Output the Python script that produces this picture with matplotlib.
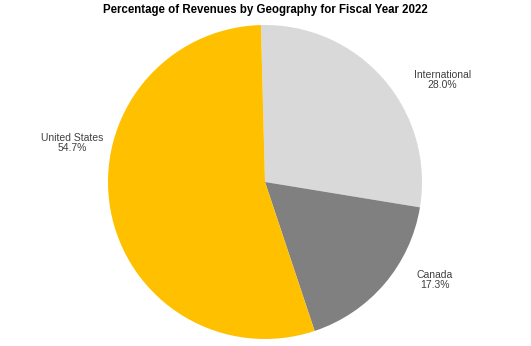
import matplotlib.pyplot as plt

regions = ['International', 'Canada', 'United States']
shares = [28.0, 17.3, 54.7]
colors = ['#D9D9D9', '#808080', '#FFC000']

# label spots (axes fraction) for each region
label_pos = [(1.064, 0.825), (1.040, 0.188), (-0.114, 0.624)]

plt.rcParams['font.family'] = ['Liberation Sans', 'DejaVu Sans']

fig = plt.figure(figsize=(5.31, 3.46), dpi=100)
ax = fig.add_axes([108/531, 7/346, 314/531, 314/346])

wedges, _ = ax.pie(shares, colors=colors, startangle=91.5, counterclock=False,
                   radius=1, wedgeprops=dict(linewidth=0))
ax.set_xlim(-1, 1)
ax.set_ylim(-1, 1)
ax.set_aspect('equal')

for name, val, (x, y) in zip(regions, shares, label_pos):
    ax.text(x, y, f'{name}\n{val:.1f}%', transform=ax.transAxes,
            ha='center', va='center', fontsize=7.5, color='#404040',
            linespacing=1.1)

fig.text(0.5, 0.97, 'Percentage of Revenues by Geography for Fiscal Year 2022',
         ha='center', va='center', fontsize=8.3, fontweight='bold', color='#000000')

fig.savefig('out.png', dpi=100)
